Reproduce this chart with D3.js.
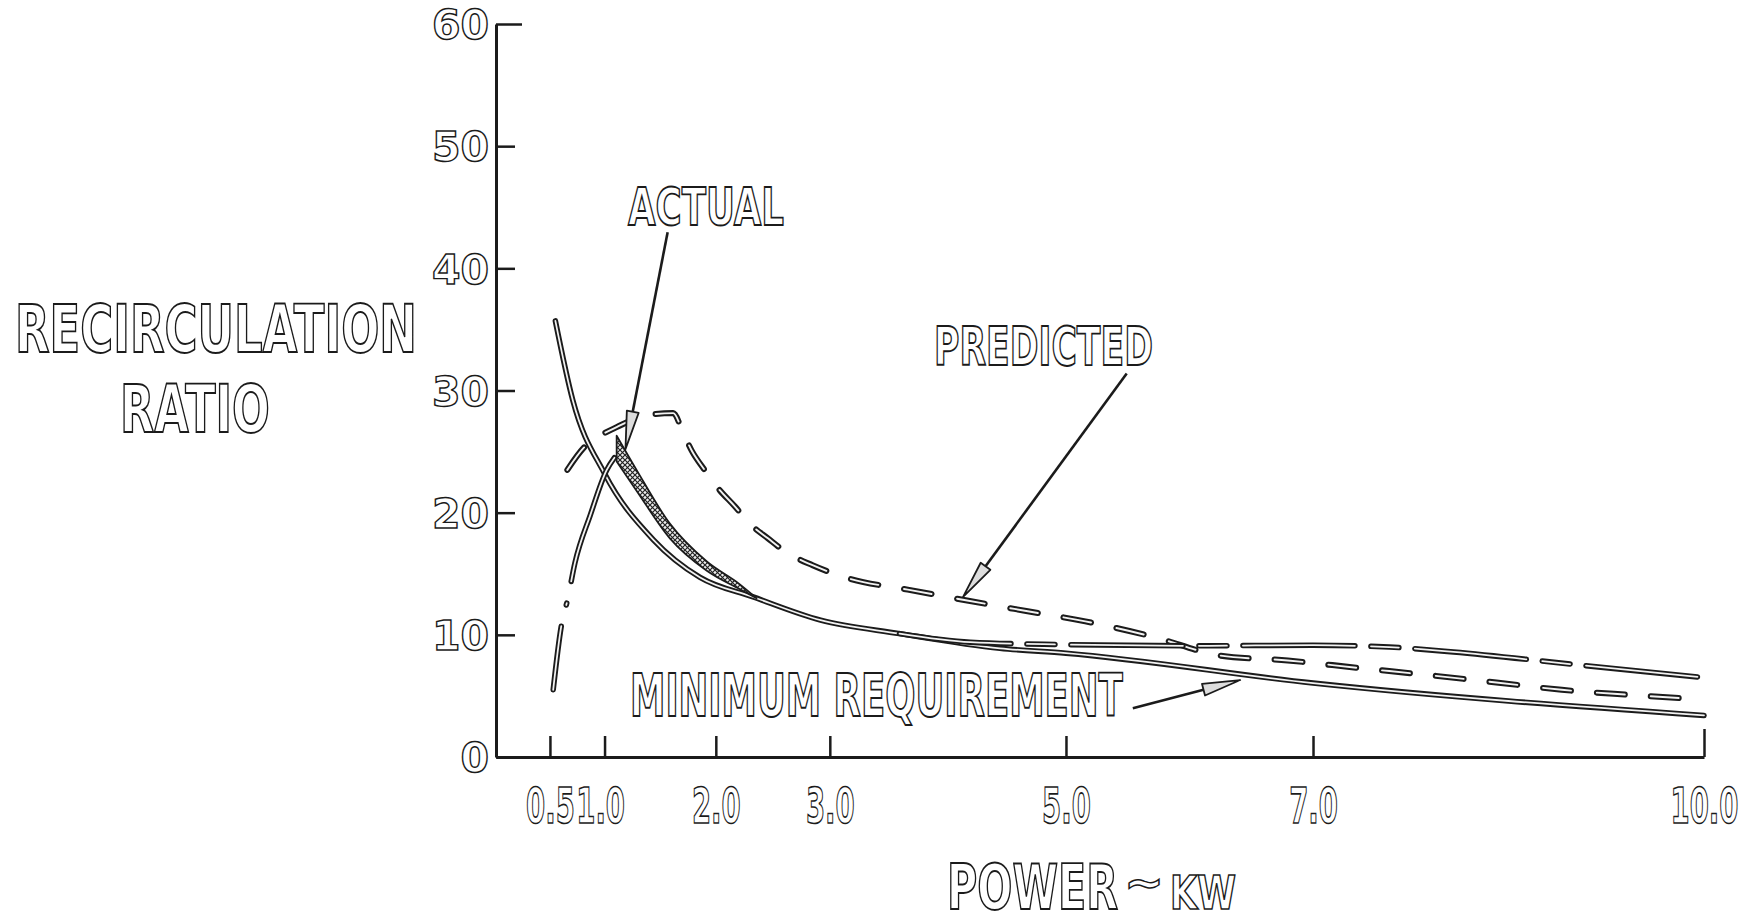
<!DOCTYPE html>
<html><head><meta charset="utf-8">
<script src="https://cdn.jsdelivr.net/npm/d3@7"></script>
<style>body{margin:0;background:#fff}svg{display:block}</style>
</head><body><svg id="c" width="1764" height="924"></svg>
<script>
// ---------- data ----------
const xTicks = [0.5, 1, 2, 3, 5, 7, 10];
const xTickLabels = ["0.5", "1.0", "2.0", "3.0", "5.0", "7.0", "10.0"];
const yTicks = [0, 10, 20, 30, 40, 50, 60];
const yTickLabels = ["0", "10", "20", "30", "40", "50", "60"];

// Minimum requirement (solid)
const minReqX = [0.55, 0.71, 1.0, 1.44, 1.86, 2.33, 2.92, 3.6, 4.45, 5.0, 7.0, 10.0];
const minReqY = [35.7, 29.2, 23.2, 17.8, 14.7, 13.1, 11.2, 10.1, 8.9, 8.5, 6.05, 3.4];

// Predicted (dashed)
const predX = [0.66, 0.82, 0.94, 1.11, 1.39, 1.62, 1.71, 1.79, 1.9, 2.02, 2.17, 2.30, 2.46, 2.63, 2.85, 3.17, 3.67, 4.15, 4.67, 5.16, 5.73, 6.26, 6.8, 7.35, 7.91, 8.43, 8.93, 9.42, 10.0];
const predY = [23.5, 25.4, 26.2, 27.0, 28.0, 28.15, 26.5, 25.0, 23.5, 22.0, 20.5, 19.1, 17.9, 16.7, 15.7, 14.6, 13.7, 12.85, 11.95, 11.1, 9.8, 8.3, 7.9, 7.3, 6.7, 6.1, 5.5, 5.1, 4.7];

// Actual: rising branch (dash-dot), shaded band, and tail (long dash - short dash)
const actualRiseX = [0.53, 0.61, 0.66, 0.73, 0.87, 1.02, 1.09];
const actualRiseY = [5.5, 11.0, 12.8, 15.9, 19.8, 23.5, 24.5];
const actualBandX = [1.11, 1.29, 1.59, 1.92, 2.21, 2.36];
const actualBandTop = [26.3, 23.5, 19.1, 16.0, 14.15, 13.0];
const actualBandBottom = [24.2, 21.8, 17.9, 15.25, 13.75, 13.0];
const actualTailX = [3.6, 4.2, 5.0, 6.0, 7.0, 7.6, 8.1, 9.0, 10.0];
const actualTailY = [10.1, 9.4, 9.2, 9.1, 9.15, 9.0, 8.6, 7.6, 6.5];

// Annotations (arrow ends in data coordinates)
const annotations = [
  {text: "ACTUAL", lx: 628, ly: 225, len: 156, size: 52, from: [1.57, 42.96], to: [1.19, 25.2]},
  {text: "PREDICTED", lx: 934, ly: 365, len: 219, size: 54, from: [5.5, 31.4], to: [4.14, 13.1]},
  {text: "MINIMUM REQUIREMENT", lx: 630, ly: 716, len: 493, size: 58, from: [5.55, 4.0], to: [6.42, 6.3]}
];

// ---------- setup ----------
const svg = d3.select("#c");
const INK = "#1b1b1b";
const FONT = "DejaVu Sans, sans-serif";
const warp = v => v + 0.0127 * v * v;           // hand-drawn, slightly stretched x axis
const xs = d3.scaleLinear().domain([0, warp(10)]).range([496, 1704]);
const X = v => xs(warp(v));
const y = d3.scaleLinear().domain([0, 60]).range([757, 24]);

const defs = svg.append("defs");
const pat = defs.append("pattern").attr("id", "hatch").attr("patternUnits", "userSpaceOnUse")
  .attr("width", 5).attr("height", 5);
pat.append("rect").attr("width", 5).attr("height", 5).attr("fill", "#eee");
pat.append("path").attr("d", "M0,0L5,5M5,0L0,5").attr("stroke", "#222").attr("stroke-width", 1.2);

function hollow(d, w, dash) {
  const g = svg.append("g");
  g.append("path").attr("d", d).attr("fill", "none").attr("stroke", INK)
    .attr("stroke-width", w).attr("stroke-linecap", "round").attr("stroke-linejoin", "round")
    .attr("stroke-dasharray", dash || null);
  g.append("path").attr("d", d).attr("fill", "none").attr("stroke", "#f2f2f2")
    .attr("stroke-width", w * 0.32).attr("stroke-linecap", "round").attr("stroke-linejoin", "round")
    .attr("stroke-dasharray", dash || null);
  return g;
}
const zip = (a, b) => a.map((v, i) => [v, b[i]]);
const line = d3.line().x(d => X(d[0])).y(d => y(d[1])).curve(d3.curveMonotoneX);

function outlined(sel, sw) {
  return sel.attr("font-family", FONT).attr("font-weight", "bold")
    .attr("fill", "#fff").attr("stroke", INK).attr("stroke-width", sw || 1.5);
}
// condensed outlined text: horizontally scaled so that it spans `len` pixels
function fitText(t, x, yy, len, size, sw) {
  const g = svg.append("g");
  const tx = outlined(g.append("text").attr("x", 0).attr("y", 0).text(t), sw).attr("font-size", size);
  const w = tx.node().getComputedTextLength();
  const s = len / w;
  g.attr("transform", `translate(${x},${yy}) scale(${s},1)`);
  tx.attr("stroke-width", (sw || 1.5) / Math.sqrt(s));
  return g;
}

// ---------- axes ----------
const yAxis = d3.axisLeft(y).tickValues(yTicks).tickFormat((d, i) => yTickLabels[i])
  .tickSize(-19).tickSizeOuter(0).tickPadding(8);
const gy = svg.append("g").attr("transform", "translate(496,0)").call(yAxis);
gy.select(".domain").attr("stroke", INK).attr("stroke-width", 3);
gy.selectAll(".tick line").attr("stroke", INK).attr("stroke-width", 2.5)
  .attr("x2", d => d === 60 ? 26 : 19);
outlined(gy.selectAll(".tick text"), 1.4).attr("font-size", 41)
  .attr("x", -7).attr("dy", "0.36em");

const xAxis = d3.axisBottom(xs).tickValues(xTicks.map(warp)).tickFormat((d, i) => xTickLabels[i])
  .tickSize(-21).tickSizeOuter(0).tickPadding(31);
const gx = svg.append("g").attr("transform", "translate(0,757)").call(xAxis);
gx.select(".domain").attr("stroke", INK).attr("stroke-width", 3);
gx.selectAll(".tick line").attr("stroke", INK).attr("stroke-width", 2.5)
  .attr("y2", (d, i) => xTicks[i] === 10 ? -28 : -21);
outlined(gx.selectAll(".tick text"), 1.6).attr("font-size", 50)
  .attr("transform", "scale(0.55,1)")
  .attr("x", (d, i) => xTicks[i] === 1 ? -8 : 0);

// ---------- curves ----------
hollow(line(zip(minReqX, minReqY)), 5.5);
hollow(line(zip(predX, predY)), 6, "28,26");
hollow(line(zip(actualRiseX, actualRiseY)), 5.5, "64,22,2,22,1000");
hollow(line(zip(actualTailX, actualTailY)), 5.5, "112,16,28,16");
const band = d3.area().x(d => X(d[0])).y0(d => y(d[2])).y1(d => y(d[1])).curve(d3.curveMonotoneX);
svg.append("path").attr("d", band(actualBandX.map((v, i) => [v, actualBandTop[i], actualBandBottom[i]])))
  .attr("fill", "url(#hatch)").attr("stroke", INK).attr("stroke-width", 1.8).attr("stroke-linejoin", "round");

// ---------- annotations ----------
annotations.forEach(a => {
  const x1 = X(a.from[0]), y1 = y(a.from[1]), x2 = X(a.to[0]), y2 = y(a.to[1]);
  const ang = Math.atan2(y2 - y1, x2 - x1), L = 38, Wd = 6;
  const bx = x2 - L * Math.cos(ang), by = y2 - L * Math.sin(ang);
  svg.append("line").attr("x1", x1).attr("y1", y1).attr("x2", bx).attr("y2", by)
    .attr("stroke", INK).attr("stroke-width", 2.6);
  const px = -Math.sin(ang) * Wd, py = Math.cos(ang) * Wd;
  svg.append("path").attr("d", `M${x2},${y2}L${bx + px},${by + py}L${bx - px},${by - py}Z`)
    .attr("fill", "#ddd").attr("stroke", INK).attr("stroke-width", 1.8).attr("stroke-linejoin", "round");
  fitText(a.text, a.lx, a.ly, a.len, a.size, 1.5);
});

// ---------- axis titles ----------
fitText("RECIRCULATION", 15, 352, 402, 66, 1.6);
fitText("RATIO", 120, 432, 150, 66, 1.6);
fitText("POWER", 947, 909, 171, 62, 1.6);
fitText("~", 1124, 898, 40, 46, 1.5);
fitText("KW", 1170, 909, 66, 46, 1.5);
</script></body></html>
